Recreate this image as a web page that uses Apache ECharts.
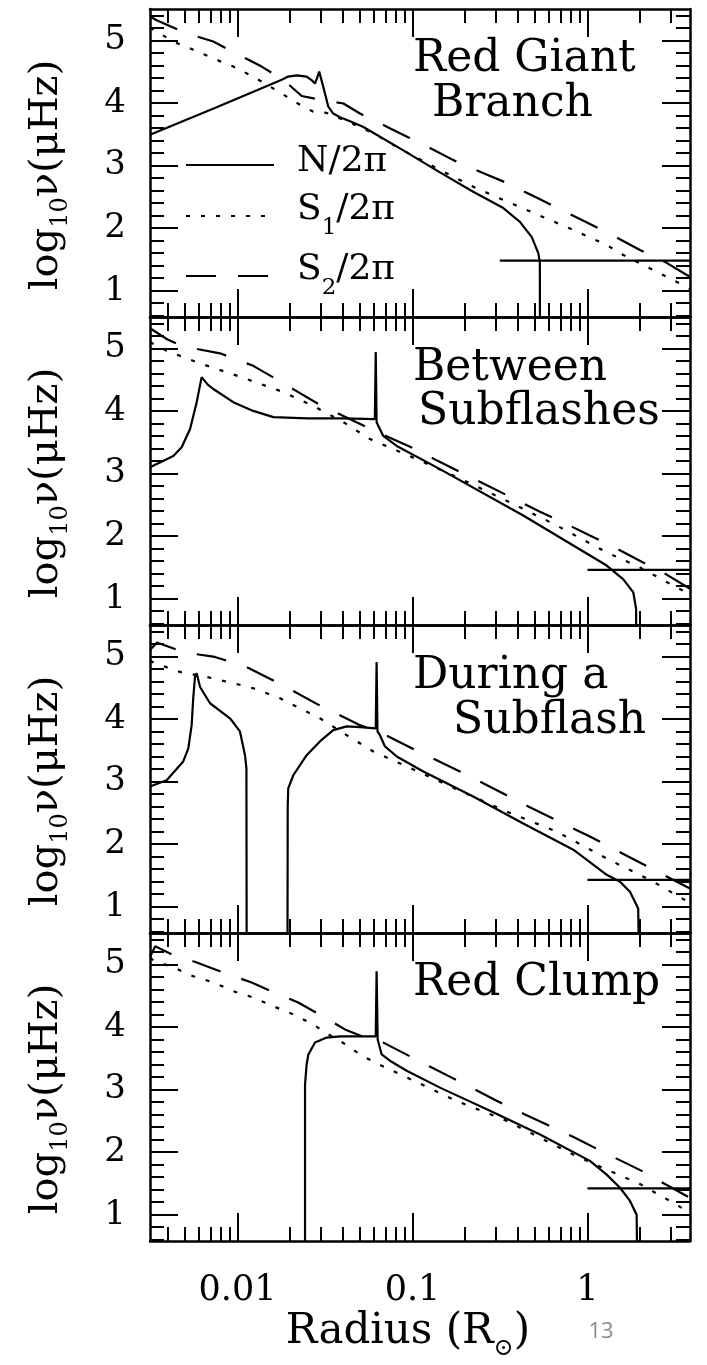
<!DOCTYPE html>
<html>
<head>
<meta charset="utf-8">
<script src="https://cdn.jsdelivr.net/npm/echarts@6/dist/echarts.min.js"></script>
<style>
  html, body { margin: 0; padding: 0; background: #fff; }
  #chart { width: 707px; height: 1365px; }
</style>
</head>
<body>
<div id="chart"></div>
<script>
// Buoyancy (N) and Lamb (S1, S2) frequencies of a helium-flashing star.
// Points are [log10(R / R_sun), log10(nu / microHz)].

// ---- Red Giant Branch ----
const rgbN = [[-2.5,3.49],[-2.119,3.93],[-1.747,4.37],[-1.711,4.42],[-1.66,4.44],[-1.605,4.42],[-1.575,4.36],[-1.557,4.31],[-1.545,4.40],[-1.533,4.50],[-1.51,4.26],[-1.481,3.94],[-1.453,3.83],[-1.414,3.77],[-1.35,3.70],[-1.283,3.62],[-1.033,3.21],[-0.843,2.89],[-0.653,2.58],[-0.481,2.32],[-0.386,2.10],[-0.319,1.86],[-0.281,1.60],[-0.272,1.45],[-0.271,-1]];
const rgbS1 = [[-2.5,5.20],[-2.462,5.14],[-2.367,4.98],[-2.253,4.85],[-2.138,4.71],[-2.024,4.58],[-1.91,4.42],[-1.795,4.23],[-1.719,4.10],[-1.643,3.97],[-1.567,3.86],[-1.49,3.84],[-1.367,3.70],[-1.281,3.59],[-1.195,3.47],[-1.11,3.33],[-1.033,3.21],[-0.843,2.93],[-0.653,2.66],[-0.481,2.45],[-0.29,2.22],[-0.081,1.97],[0.11,1.73],[0.205,1.57],[0.376,1.33],[0.49,1.17],[0.586,1.03]];
const rgbS2 = [[-2.5,5.38],[-2.462,5.32],[-2.29,5.11],[-2.138,4.98],[-1.995,4.77],[-1.862,4.58],[-1.738,4.37],[-1.633,4.11],[-1.51,4.04],[-1.395,3.99],[-1.3,3.83],[-1.147,3.62],[-1.031,3.46],[-0.9,3.28],[-0.769,3.09],[-0.597,2.88],[-0.46,2.72],[-0.3,2.50],[-0.169,2.32],[0.003,2.08],[0.14,1.89],[0.3,1.65],[0.443,1.46],[0.586,1.22]];
const rgbNuMax = [[-0.501,1.48],[0.586,1.48]];

// ---- Between Subflashes ----
const bsfN = [[-2.5,3.10],[-2.367,3.28],[-2.319,3.42],[-2.271,3.71],[-2.233,4.14],[-2.205,4.54],[-2.17,4.42],[-2.138,4.35],[-2.024,4.14],[-1.91,4.00],[-1.795,3.90],[-1.6,3.88],[-1.4,3.88],[-1.215,3.87],[-1.21,4.94],[-1.205,3.82],[-1.167,3.60],[-1.09,3.44],[-0.843,3.07],[-0.367,2.33],[0.11,1.53],[0.205,1.31],[0.262,1.10],[0.278,0.84],[0.281,-1]];
const bsfS1 = [[-2.5,5.10],[-2.405,4.96],[-2.205,4.75],[-2.0,4.56],[-1.738,4.30],[-1.567,4.08],[-1.395,3.82],[-1.243,3.55],[-1.033,3.30],[-0.767,2.97],[-0.443,2.54],[-0.176,2.17],[0.11,1.74],[0.3,1.50],[0.49,1.21],[0.586,1.07]];
const bsfS2 = [[-2.5,5.32],[-2.4,5.14],[-2.3,5.02],[-2.233,4.99],[-2.1,4.92],[-1.91,4.72],[-1.786,4.52],[-1.653,4.30],[-1.538,4.11],[-1.395,3.92],[-1.2,3.66],[-0.976,3.38],[-0.862,3.21],[-0.719,3.01],[-0.595,2.84],[-0.271,2.39],[-0.147,2.23],[0.014,2.01],[0.147,1.83],[0.31,1.59],[0.443,1.40],[0.586,1.16]];
const bsfNuMax = [[0,1.46],[0.586,1.46]];

// ---- During a Subflash (N splits into a core branch and a shell branch) ----
const dsfNcore = [[-2.5,2.92],[-2.49,2.94],[-2.405,3.02],[-2.31,3.32],[-2.281,3.53],[-2.262,3.90],[-2.253,4.33],[-2.243,4.67],[-2.233,4.73],[-2.214,4.51],[-2.157,4.25],[-2.043,4.01],[-1.986,3.80],[-1.957,3.42],[-1.949,3.21],[-1.947,-1]];
const dsfNshell = [[-1.715,-1],[-1.713,2.60],[-1.71,2.89],[-1.681,3.10],[-1.605,3.42],[-1.529,3.64],[-1.453,3.82],[-1.376,3.88],[-1.3,3.87],[-1.21,3.85],[-1.205,4.91],[-1.2,3.80],[-1.186,3.74],[-1.157,3.56],[-1.09,3.40],[-0.938,3.16],[-0.653,2.76],[-0.367,2.33],[-0.081,1.91],[0.11,1.51],[0.186,1.40],[0.243,1.24],[0.29,0.97],[0.3,-1]];
const dsfS1 = [[-2.5,4.93],[-2.471,4.89],[-2.329,4.75],[-2.176,4.67],[-2.024,4.57],[-1.91,4.49],[-1.757,4.33],[-1.643,4.17],[-1.529,4.01],[-1.376,3.74],[-1.224,3.48],[-1.0,3.20],[-0.75,2.88],[-0.462,2.52],[-0.176,2.20],[0.11,1.77],[0.376,1.40],[0.586,1.06]];
const dsfS2 = [[-2.5,5.10],[-2.46,5.22],[-2.3,5.06],[-2.129,4.99],[-1.957,4.84],[-1.757,4.56],[-1.547,4.24],[-1.3,3.90],[-1.195,3.80],[-0.967,3.48],[-0.729,3.16],[-0.462,2.78],[-0.338,2.60],[0.014,2.12],[0.31,1.69],[0.586,1.29]];
const dsfNuMax = [[0,1.43],[0.586,1.43]];

// ---- Red Clump ----
const rcN = [[-1.614,-1],[-1.614,3.08],[-1.605,3.40],[-1.595,3.56],[-1.557,3.75],[-1.49,3.83],[-1.414,3.85],[-1.21,3.85],[-1.205,4.89],[-1.199,3.80],[-1.176,3.56],[-1.129,3.46],[-1.033,3.30],[-0.843,3.03],[-0.557,2.66],[-0.271,2.28],[0.014,1.86],[0.11,1.64],[0.186,1.43],[0.243,1.22],[0.281,1.00],[0.29,-1]];
const rcS1 = [[-2.5,5.10],[-2.471,5.05],[-2.367,4.95],[-2.253,4.81],[-2.138,4.71],[-2.024,4.57],[-1.91,4.47],[-1.795,4.33],[-1.681,4.20],[-1.567,4.04],[-1.51,3.93],[-1.376,3.71],[-1.3,3.56],[-1.214,3.43],[-1.0,3.15],[-0.75,2.82],[-0.462,2.50],[-0.271,2.23],[-0.081,1.96],[0.11,1.72],[0.3,1.49],[0.49,1.19],[0.586,1.03]];
const rcS2 = [[-2.5,5.12],[-2.47,5.29],[-2.376,5.16],[-2.233,5.03],[-2.053,4.84],[-1.919,4.71],[-1.767,4.52],[-1.653,4.39],[-1.5,4.15],[-1.386,3.96],[-1.262,3.82],[-1.195,3.79],[-0.89,3.35],[-0.776,3.19],[-0.643,3.00],[-0.519,2.82],[-0.357,2.60],[-0.233,2.44],[-0.071,2.23],[0.062,2.04],[0.31,1.70],[0.443,1.49],[0.586,1.27]];
const rcNuMax = [[0,1.42],[0.586,1.42]];

// ---- Axes ----
const X_TICK_R = [0.01, 0.1, 1];
const X_TICK_LABELS = ['0.01', '0.1', '1'];
const X_MINOR_R = [0.004,0.005,0.006,0.007,0.008,0.009,0.02,0.03,0.04,0.05,0.06,0.07,0.08,0.09,0.2,0.3,0.4,0.5,0.6,0.7,0.8,0.9,2,3];
const Y_TICKS = [1, 2, 3, 4, 5];
const Y_TICK_LABELS = ['1', '2', '3', '4', '5'];
const Y_MINOR = [0.6,0.8,1.2,1.4,1.6,1.8,2.2,2.4,2.6,2.8,3.2,3.4,3.6,3.8,4.2,4.4,4.6,4.8,5.2,5.4];
const PANEL_TITLES = [['Red Giant', 'Branch'], ['Between', 'Subflashes'], ['During a', 'Subflash'], ['Red Clump']];
const SERIES_NAMES = ['N/2π', 'S1/2π', 'S2/2π'];

const X_MIN = -2.5, X_MAX = 0.586, Y_MIN = 0.58, Y_MAX = 5.5;
const X_MAJOR = X_TICK_R.map(Math.log10);
const X_MINOR = X_MINOR_R.map(Math.log10);

const SERIF = '"DejaVu Serif", serif';
const INK = '#000';
const GRID_TOPS = [9, 317, 625, 933];
const GRID_H = 308;

const panels = [
  { N: [rgbN], S1: rgbS1, S2: rgbS2, nuMax: rgbNuMax },
  { N: [bsfN], S1: bsfS1, S2: bsfS2, nuMax: bsfNuMax },
  { N: [dsfNcore, dsfNshell], S1: dsfS1, S2: dsfS2, nuMax: dsfNuMax },
  { N: [rcN], S1: rcS1, S2: rcS2, nuMax: rcNuMax }
];

const tickStyle = { color: INK, width: 2 };
const axisLineOn = { show: true, onZero: false, lineStyle: { color: INK, width: 2.5 } };
const axisLineOff = { show: false, onZero: false };

const grid = [], xAxis = [], yAxis = [], series = [];

panels.forEach((p, g) => {
  grid.push({ left: 150, right: 17, top: GRID_TOPS[g], height: GRID_H });

  ['bottom', 'top'].forEach(pos => {
    const labelled = pos === 'bottom' && g === panels.length - 1;
    xAxis.push({
      type: 'value', gridIndex: g, position: pos, min: X_MIN, max: X_MAX,
      axisLine: axisLineOn, splitLine: { show: false },
      axisTick: { show: true, inside: true, length: 28, lineStyle: tickStyle, customValues: X_MAJOR },
      axisLabel: labelled ? {
        show: true, customValues: X_MAJOR, margin: 32,
        fontFamily: SERIF, fontSize: 35, color: INK,
        formatter: v => {
          const i = X_MAJOR.findIndex(t => Math.abs(t - v) < 1e-6);
          return i >= 0 ? X_TICK_LABELS[i] : '';
        }
      } : { show: false }
    });
    xAxis.push({
      type: 'value', gridIndex: g, position: pos, min: X_MIN, max: X_MAX,
      axisLine: axisLineOff, splitLine: { show: false }, axisLabel: { show: false },
      axisTick: { show: true, inside: true, length: 14, lineStyle: tickStyle, customValues: X_MINOR }
    });
  });

  ['left', 'right'].forEach(pos => {
    yAxis.push({
      type: 'value', gridIndex: g, position: pos, min: Y_MIN, max: Y_MAX,
      axisLine: axisLineOn, splitLine: { show: false },
      axisTick: { show: true, inside: true, length: 28, lineStyle: tickStyle, customValues: Y_TICKS },
      axisLabel: pos === 'left' ? {
        show: true, customValues: Y_TICKS, margin: 24,
        fontFamily: SERIF, fontSize: 34, color: INK,
        formatter: v => {
          const i = Y_TICKS.findIndex(t => Math.abs(t - v) < 1e-6);
          return i >= 0 ? Y_TICK_LABELS[i] : '';
        }
      } : { show: false }
    });
    yAxis.push({
      type: 'value', gridIndex: g, position: pos, min: Y_MIN, max: Y_MAX,
      axisLine: axisLineOff, splitLine: { show: false }, axisLabel: { show: false },
      axisTick: { show: true, inside: true, length: 14, lineStyle: tickStyle, customValues: Y_MINOR }
    });
  });

  const base = { type: 'line', xAxisIndex: g * 4, yAxisIndex: g * 4, symbol: 'none', showSymbol: false, clip: true, silent: true, animation: false };
  p.N.forEach(d => series.push(Object.assign({}, base, { name: SERIES_NAMES[0], data: d, lineStyle: { color: INK, width: 2.2, type: 'solid' }, itemStyle: { color: INK } })));
  series.push(Object.assign({}, base, { name: SERIES_NAMES[1], data: p.S1, lineStyle: { color: INK, width: 2.2, type: [4, 11] }, itemStyle: { color: INK } }));
  series.push(Object.assign({}, base, { name: SERIES_NAMES[2], data: p.S2, lineStyle: { color: INK, width: 2.2, type: [30, 22] }, itemStyle: { color: INK } }));
  series.push(Object.assign({}, base, { name: 'nu_max', data: p.nuMax, lineStyle: { color: INK, width: 2.2, type: 'solid' } }));
});

// Panel captions, one text element per line
const titleLines = [
  { text: PANEL_TITLES[0][0], x: 413, y: 60 },
  { text: PANEL_TITLES[0][1], x: 432, y: 105 },
  { text: PANEL_TITLES[1][0], x: 413, y: 369 },
  { text: PANEL_TITLES[1][1], x: 418, y: 413 },
  { text: PANEL_TITLES[2][0], x: 413, y: 677 },
  { text: PANEL_TITLES[2][1], x: 453, y: 722 },
  { text: PANEL_TITLES[3][0], x: 413, y: 984 }
];

const graphic = titleLines.map(t => ({
  type: 'text', x: t.x, y: t.y, silent: true,
  style: { text: t.text, font: '44px ' + SERIF, fill: INK, align: 'left', verticalAlign: 'middle' }
}));

// Vertical axis names, one per panel
GRID_TOPS.forEach(top => {
  graphic.push({
    type: 'text', x: 50, y: top + GRID_H / 2 + 12, rotation: Math.PI / 2, silent: true,
    style: {
      text: '{m|log}{s|10}{m|ν(μHz)}', align: 'center', verticalAlign: 'middle', fill: INK,
      rich: {
        m: { fontFamily: SERIF, fontSize: 40, lineHeight: 44, color: INK, verticalAlign: 'top' },
        s: { fontFamily: SERIF, fontSize: 24, color: INK, verticalAlign: 'top', padding: [22, 0, 0, 0] }
      }
    }
  });
});

// Horizontal axis name
graphic.push({
  type: 'text', x: 408, y: 1336, silent: true,
  style: {
    text: '{m|Radius (R}{s|⊙}{m|)}', align: 'center', verticalAlign: 'middle', fill: INK,
    rich: {
      m: { fontFamily: SERIF, fontSize: 42, lineHeight: 46, color: INK, verticalAlign: 'top' },
      s: { fontFamily: SERIF, fontSize: 24, color: INK, verticalAlign: 'top', padding: [26, 0, 0, 0] }
    }
  }
});

// Page number
graphic.push({
  type: 'text', x: 601, y: 1332, silent: true,
  style: { text: '13', font: '22px "Open Sans", sans-serif', fill: '#8a8a8a', align: 'center', verticalAlign: 'middle' }
});

const option = {
  backgroundColor: '#fff',
  animation: false,
  grid, xAxis, yAxis, series, graphic,
  legend: {
    data: SERIES_NAMES, orient: 'vertical', left: 185, top: 144,
    itemWidth: 88, itemHeight: 14, itemGap: 12, padding: 0, selectedMode: false,
    itemStyle: { opacity: 0 },
    formatter: name => {
      if (name === 'S1/2π') return '{m|S}{s|1}{m|/2π}';
      if (name === 'S2/2π') return '{m|S}{s|2}{m|/2π}';
      return '{m|N/2π}';
    },
    textStyle: {
      color: INK, fontFamily: SERIF, fontSize: 36, padding: [0, 0, 0, 18],
      rich: {
        m: { fontFamily: SERIF, fontSize: 36, lineHeight: 42, color: INK, verticalAlign: 'top' },
        s: { fontFamily: SERIF, fontSize: 23, color: INK, verticalAlign: 'top', padding: [25, 0, 0, 0] }
      }
    }
  }
};

const chart = echarts.init(document.getElementById('chart'), null, { renderer: 'canvas' });
chart.setOption(option);
</script>
</body>
</html>
